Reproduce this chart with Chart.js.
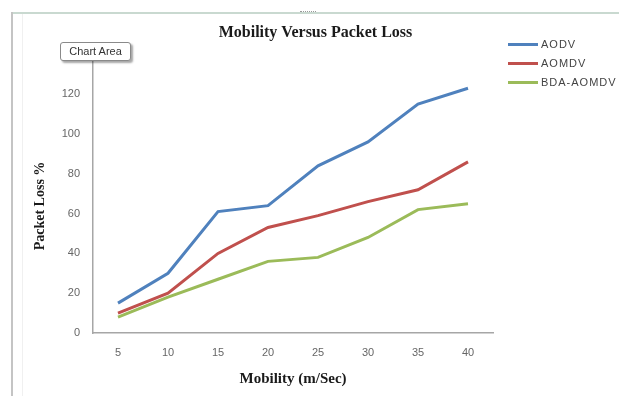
<!DOCTYPE html>
<html>
<head>
<meta charset="utf-8">
<script src="https://cdn.jsdelivr.net/npm/chart.js@4/dist/chart.umd.min.js"></script>
<style>
  html, body { margin: 0; padding: 0; background: #fff; }
  #wrap { position: relative; width: 619px; height: 396px; overflow: hidden; }
  #c { position: absolute; left: 0; top: 0; }
  .frame-top { position: absolute; left: 12px; right: 0; top: 12px; height: 2px; background: #c9d9d0; }
  .frame-left { position: absolute; left: 11px; top: 12px; bottom: 0; width: 2px; background: #c4c4c4; }
  .frame-inner { position: absolute; left: 22px; top: 14px; bottom: 0; width: 1px; background: #f0f0f0; }
  .handle { position: absolute; left: 300px; top: 11px; width: 16px; height: 3px; border-top: 1px dotted #999; }
  .chip { position: absolute; left: 60px; top: 42px; width: 71px; height: 19px; box-sizing: border-box;
          border: 1px solid #8a8a8a; border-radius: 3px; background: #fff;
          box-shadow: 2px 2px 2px rgba(0,0,0,0.35);
          font: 11px "Liberation Sans", Arial, sans-serif; color: #333; line-height: 17px; text-align: center; }
</style>
</head>
<body>
<div id="wrap">
  <canvas id="c" width="619" height="396"></canvas>
  <div class="frame-top"></div>
  <div class="frame-left"></div>
  <div class="frame-inner"></div>
  <div class="handle"></div>
  <div class="chip">Chart Area</div>
</div>
<script>
// Mobility (m/Sec) on the x axis
const categories = ['5', '10', '15', '20', '25', '30', '35', '40'];

// Packet loss (%) per routing protocol
const aodv     = [15, 30, 61, 64, 84, 96, 115, 123];
const aomdv    = [10, 20, 40, 53, 59, 66, 72, 86];
const bdaAomdv = [8, 18, 27, 36, 38, 48, 62, 65];

const seriesNames = ['AODV', 'AOMDV', 'BDA-AOMDV'];
const seriesColors = ['#4F81BD', '#C0504D', '#9BBB59'];

const yTicks = [0, 20, 40, 60, 80, 100, 120, 140];

const serif = '"Liberation Serif", "Times New Roman", serif';
const sans = '"Liberation Sans", Arial, sans-serif';

// Legend and y axis caption drawn on the canvas after the chart
const decorations = {
  id: 'decorations',
  afterDraw(chart) {
    const ctx = chart.ctx;
    ctx.save();
    // legend at the right
    ctx.font = '11px ' + sans;
    ctx.textBaseline = 'middle';
    ctx.textAlign = 'left';
    if ('letterSpacing' in ctx) ctx.letterSpacing = '1px';
    chart.data.datasets.forEach((ds, i) => {
      const y = 44.5 + i * 19;
      ctx.strokeStyle = ds.borderColor;
      ctx.lineWidth = 3;
      ctx.beginPath();
      ctx.moveTo(508, y);
      ctx.lineTo(538, y);
      ctx.stroke();
      ctx.fillStyle = '#444';
      ctx.fillText(ds.label, 541, y + 0.5);
    });
    if ('letterSpacing' in ctx) ctx.letterSpacing = '0px';
    // y axis caption
    ctx.translate(40, 206);
    ctx.rotate(-Math.PI / 2);
    ctx.textAlign = 'center';
    ctx.font = 'bold 14px ' + serif;
    ctx.fillStyle = '#1a1a1a';
    ctx.fillText('Packet Loss %', 0, 0);
    ctx.restore();
  }
};

const datasets = [aodv, aomdv, bdaAomdv].map((vals, i) => ({
  label: seriesNames[i],
  data: vals,
  borderColor: seriesColors[i],
  backgroundColor: seriesColors[i],
  borderWidth: 3,
  pointRadius: 0,
  tension: 0,
  fill: false
}));

new Chart(document.getElementById('c'), {
  type: 'line',
  data: { labels: categories, datasets },
  plugins: [decorations],
  options: {
    responsive: false,
    animation: false,
    events: [],
    layout: { padding: { left: 12, right: 0, top: 14, bottom: 0 } },
    plugins: {
      legend: { display: false },
      tooltip: { enabled: false },
      title: {
        display: true,
        text: 'Mobility Versus Packet Loss',
        color: '#1a1a1a',
        font: { family: serif, size: 16, weight: 'bold' },
        padding: { top: 9.4, bottom: 11.8 }
      }
    },
    scales: {
      x: {
        type: 'category',
        offset: true,
        grid: { display: false, drawTicks: false },
        border: { display: true, color: '#a6a6a6', width: 1.5 },
        ticks: { color: '#666', font: { family: sans, size: 11 }, padding: 13, maxRotation: 0 },
        title: {
          display: true,
          text: 'Mobility (m/Sec)',
          color: '#1a1a1a',
          font: { family: serif, size: 15, weight: 'bold' },
          padding: { top: 0, bottom: 8 }
        },
        afterFit(scale) { scale.height = 63; }
      },
      y: {
        type: 'linear',
        min: 0,
        max: 140,
        afterBuildTicks(scale) { scale.ticks = yTicks.map(v => ({ value: v })); },
        grid: { display: false, drawTicks: false },
        border: { display: true, color: '#a6a6a6', width: 1.5 },
        ticks: { color: '#666', font: { family: sans, size: 11 }, padding: 13 },
        afterFit(scale) { scale.width = 81; }
      },
      // empty right-hand strip that holds the legend
      side: {
        type: 'linear',
        position: 'right',
        display: true,
        grid: { display: false, drawTicks: false },
        border: { display: false },
        ticks: { display: false },
        afterFit(scale) { scale.width = 126; }
      }
    }
  }
});
</script>
</body>
</html>
